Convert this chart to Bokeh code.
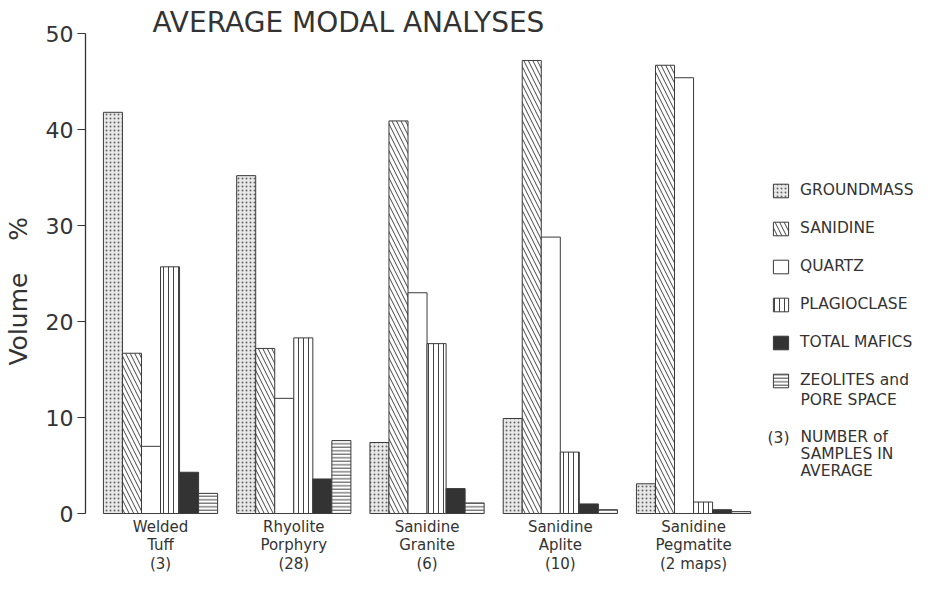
from bokeh.plotting import figure
from bokeh.models import Range1d, FixedTicker, Label, ColumnDataSource
from bokeh.transform import dodge
from bokeh.embed import file_html
from bokeh.resources import INLINE

# ---- data ----
rocks = ["Welded Tuff", "Rhyolite Porphyry", "Sanidine Granite", "Sanidine Aplite", "Sanidine Pegmatite"]
rock_line1 = ["Welded", "Rhyolite", "Sanidine", "Sanidine", "Sanidine"]
rock_line2 = ["Tuff", "Porphyry", "Granite", "Aplite", "Pegmatite"]
sample_counts = ["(3)", "(28)", "(6)", "(10)", "(2 maps)"]

groundmass = [41.8, 35.2, 7.4, 9.9, 3.1]
sanidine = [16.7, 17.2, 40.9, 47.2, 46.7]
quartz = [7.0, 12.0, 23.0, 28.8, 45.4]
plagioclase = [25.7, 18.3, 17.7, 6.4, 1.2]
total_mafics = [4.3, 3.6, 2.6, 1.0, 0.4]
zeolites_pore = [2.1, 7.6, 1.1, 0.4, 0.2]

series_keys = ["groundmass", "sanidine", "quartz", "plagioclase", "total_mafics", "zeolites_pore"]
series_labels = ["GROUNDMASS", "SANIDINE", "QUARTZ", "PLAGIOCLASE", "TOTAL MAFICS", "ZEOLITES and"]
zeolites_label_line2 = "PORE SPACE"
samples_note_key = "(3)"
samples_note_text = "NUMBER of\nSAMPLES IN\nAVERAGE"
title_text = "AVERAGE MODAL ANALYSES"
y_label = "Volume\u00a0\u00a0\u00a0\u00a0%" + "\u00a0" * 8
y_ticks = [0, 10, 20, 30, 40, 50]

FONT = "DejaVu Sans"
INK = "#333333"

group_index = list(range(len(rocks)))
source = ColumnDataSource(dict(
    rock=rocks, idx=group_index, groundmass=groundmass, sanidine=sanidine, quartz=quartz,
    plagioclase=plagioclase, total_mafics=total_mafics, zeolites_pore=zeolites_pore,
))

p = figure(
    width=918, height=581,
    x_range=Range1d(-0.563, 5.688),
    y_range=Range1d(-0.1, 53.03),
    output_backend="svg", toolbar_location=None,
    min_border_left=77, min_border_right=0, min_border_top=4, min_border_bottom=67,
)

styles = {
    "groundmass": dict(fill_color="#e8e8e8", hatch_pattern="dot", hatch_scale=4, hatch_color="#666666", hatch_weight=1),
    "sanidine": dict(fill_color="white", hatch_pattern="left_diagonal_line", hatch_scale=9, hatch_color="#444444", hatch_weight=1),
    "quartz": dict(fill_color="white"),
    "plagioclase": dict(fill_color="white", hatch_pattern="vertical_line", hatch_scale=5, hatch_color="#444444", hatch_weight=1),
    "total_mafics": dict(fill_color="#333333"),
    "zeolites_pore": dict(fill_color="white", hatch_pattern="horizontal_line", hatch_scale=3.5, hatch_color="#444444", hatch_weight=1),
}

bw = 1.0 / 7.0
n = len(series_keys)
for i, (key, lab) in enumerate(zip(series_keys, series_labels)):
    off = (i - (n - 1) / 2.0) * bw
    p.vbar(x=dodge("idx", off), top=key, bottom=0, width=bw, source=source,
           line_color="#3a3a3a", line_width=1, legend_label=lab, **styles[key])

# axes
p.xgrid.grid_line_color = None
p.ygrid.grid_line_color = None
p.outline_line_color = None

p.yaxis.ticker = FixedTicker(ticks=y_ticks)
p.yaxis.bounds = (0, 50)
p.yaxis.axis_line_color = INK
p.yaxis.axis_line_width = 1.3
p.yaxis.major_tick_line_color = INK
p.yaxis.major_tick_out = 8
p.yaxis.major_tick_in = 0
p.yaxis.minor_tick_line_color = None
p.yaxis.major_label_standoff = 4
p.yaxis.major_label_text_font = FONT
p.yaxis.major_label_text_font_size = "22px"
p.yaxis.major_label_text_color = INK
p.yaxis.axis_label = y_label
p.yaxis.axis_label_text_font = FONT
p.yaxis.axis_label_text_font_size = "25px"
p.yaxis.axis_label_text_font_style = "normal"
p.yaxis.axis_label_text_color = INK
p.yaxis.axis_label_standoff = 10

p.xaxis.ticker = FixedTicker(ticks=group_index)
p.xaxis.axis_line_color = None
p.xaxis.major_tick_line_color = None
p.xaxis.minor_tick_line_color = None
p.xaxis.major_tick_out = 0
p.xaxis.major_tick_in = 0
p.xaxis.major_label_standoff = 3
p.xaxis.major_label_text_font = FONT
p.xaxis.major_label_text_font_size = "15px"
p.xaxis.major_label_text_color = INK
p.xaxis.major_label_text_line_height = 1.05
p.xaxis.major_label_overrides = {
    i: f"{a}\n{b}\n{c}" for i, a, b, c in zip(group_index, rock_line1, rock_line2, sample_counts)
}

# legend (location = bottom-left corner, in px from the frame's bottom-left)
lg = p.legend[0]
lg.location = (686, 124)
lg.glyph_width = 19
lg.glyph_height = 17
lg.label_standoff = 10
lg.spacing = 18
lg.padding = 0
lg.margin = 0
lg.border_line_color = None
lg.background_fill_alpha = 0
lg.label_text_font = FONT
lg.label_text_font_size = "15.5px"
lg.label_text_color = INK
lg.label_height = 20

note_style = dict(x_units="screen", y_units="screen", text_font=FONT, text_font_size="15.5px", text_color=INK)
p.add_layout(Label(x=715, y=115, text=zeolites_label_line2, text_baseline="middle", **note_style))
p.add_layout(Label(x=682, y=77, text=samples_note_key, text_baseline="middle", **note_style))
p.add_layout(Label(x=715, y=87, text=samples_note_text, text_baseline="top", text_line_height=0.95, **note_style))

# title
p.add_layout(Label(x=67, y=492, x_units="screen", y_units="screen", text=title_text,
                   text_baseline="middle", text_font=FONT, text_font_size="28px", text_color=INK))

open("out.html", "w").write(file_html(p, INLINE))
